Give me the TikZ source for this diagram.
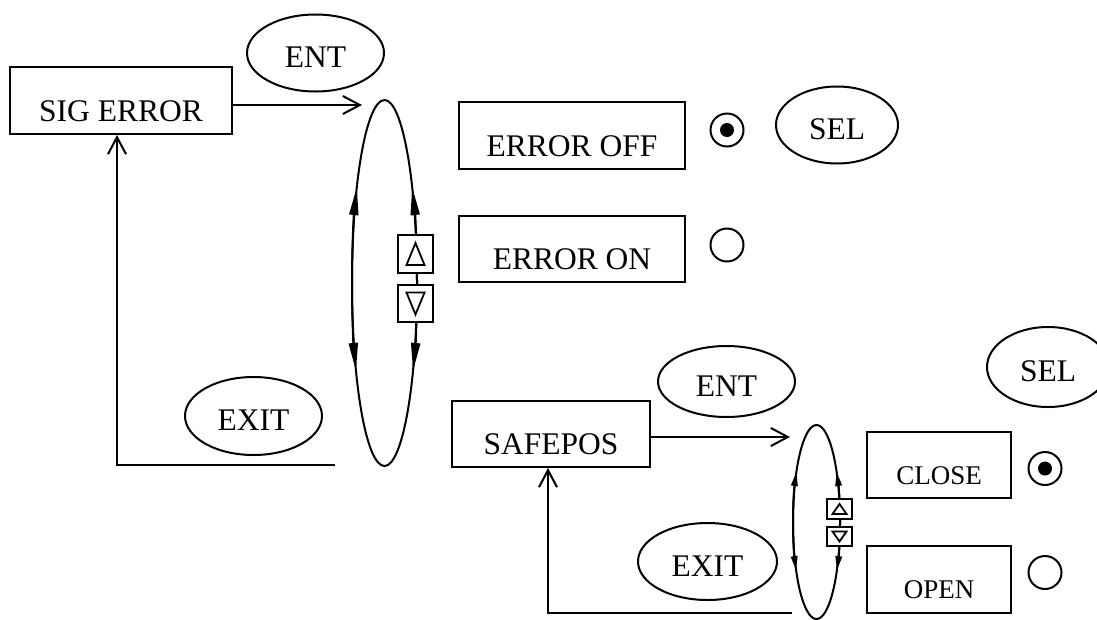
\documentclass[tikz,border=0pt]{standalone}
\usepackage{fontspec}
\setmainfont{Liberation Serif}
\usepackage{tikz}
\usetikzlibrary{arrows.meta, shapes.geometric}

\newcommand{\bigtxt}{\fontsize{31.5}{36}\selectfont}
\newcommand{\smalltxt}{\fontsize{27}{32}\selectfont}

\begin{document}
\begin{tikzpicture}[
    x=1pt, y=-1pt,
    line width=2pt,
    menu/.style={draw, rectangle, minimum width=#1, minimum height=67pt,
                 inner sep=0pt, text height=41pt, text depth=0pt, font=\bigtxt},
    menu/.default=222pt,
    choice/.style={menu=226pt},
    opt/.style={menu=144pt, text height=38pt, font=\smalltxt},
    keyell/.style={draw, ellipse, minimum width=137pt, minimum height=77pt,
                   inner sep=0pt, text height=29pt, text depth=0pt, font=\bigtxt},
    sel/.style={keyell, minimum width=122pt},
    ring/.style={draw, ellipse, inner sep=0pt, outer sep=0pt},
    keybox/.style={draw, fill=white, inner sep=0pt, outer sep=0pt},
    upkey/.style 2 args={keybox, path picture={
        \draw[line width=1.8pt] ([shift={(-#1/2,-#2/2)}]path picture bounding box.center)
            -- ([shift={(#1/2,-#2/2)}]path picture bounding box.center)
            -- ([shift={(0pt,#2/2)}]path picture bounding box.center) -- cycle;}},
    downkey/.style 2 args={keybox, path picture={
        \draw[line width=1.8pt] ([shift={(-#1/2,#2/2)}]path picture bounding box.center)
            -- ([shift={(#1/2,#2/2)}]path picture bounding box.center)
            -- ([shift={(0pt,-#2/2)}]path picture bounding box.center) -- cycle;}},
    radio/.style={draw, circle, minimum size=33pt, inner sep=0pt},
    radioon/.style={radio, path picture={
        \fill (path picture bounding box.center) circle (7pt);}},
    push/.style={-{Straight Barb[length=17pt, width=18pt]}},
    bigtip/.style={-{Triangle[length=28pt, width=9pt]}},
    smalltip/.style={-{Triangle[length=14pt, width=6.5pt]}}
]
\useasboundingbox (0,0) rectangle (1097,619);
\clip (0,0) rectangle (1097,619);

%% Upper menu: signal error
\node[menu=222pt] (sigerr) at (121,100.5) {SIG ERROR};
\node[keyell] (entA) at (315.5,53) {ENT};
\node[keyell, minimum height=78pt] (exitA) at (253.5,416) {EXIT};
\node[ring, minimum width=65pt, minimum height=366pt] (loopA) at (384.5,283) {};
\node[choice] (erroff) at (572,135.5) {ERROR OFF};
\node[choice, minimum height=66pt] (erron) at (572,249) {ERROR ON};
\node[radioon] (radA) at (727,130) {};
\node[radio] (radB) at (727,245) {};
\node[sel] (selA) at (837,125) {SEL};

%% Lower menu: safe position
\node[menu=198pt, minimum height=66pt] (safepos) at (551,434) {SAFEPOS};
\node[keyell, minimum height=71pt] (entB) at (726.5,381.5) {ENT};
\node[keyell, minimum width=139pt] (exitB) at (707.5,561.5) {EXIT};
\node[ring, minimum width=47pt, minimum height=194pt] (loopB) at (816.5,522) {};
\node[opt, minimum height=66pt] (close) at (939,465) {CLOSE};
\node[opt] (open) at (939,579.5) {OPEN};
\node[radioon] (radC) at (1045,468.5) {};
\node[radio] (radD) at (1045,572.5) {};
\node[sel, minimum height=80pt] (selB) at (1048,367) {SEL};

%% Enter and exit connectors
\coordinate (inA) at (362,105);
\coordinate (backA) at (335,465);
\coordinate (inB) at (790,437);
\coordinate (backB) at (792,613);
\draw[push] (sigerr.east |- inA) -- (inA);
\draw[push] (backA) -| ([xshift=-4pt]sigerr.south);
\draw[push] (safepos.east |- inB) -- (inB);
\draw[push] (backB) -| ([xshift=-3pt]safepos.south);

%% Scroll arrows on the loops
\draw[bigtip] (loopA.west) arc[start angle=180, end angle=211.6, x radius=32.5, y radius=183];
\draw[bigtip] (loopA.west) arc[start angle=180, end angle=151.3, x radius=32.5, y radius=183];
\draw[bigtip] (loopA.east) arc[start angle=0, end angle=-31.6, x radius=32.5, y radius=183];
\draw[bigtip] (loopA.east) arc[start angle=0, end angle=28.7, x radius=32.5, y radius=183];
\draw[smalltip] (loopB.west) arc[start angle=180, end angle=211, x radius=23.5, y radius=97];
\draw[smalltip] (loopB.west) arc[start angle=180, end angle=150.3, x radius=23.5, y radius=97];
\draw[smalltip] (loopB.east) arc[start angle=0, end angle=-31, x radius=23.5, y radius=97];
\draw[smalltip] (loopB.east) arc[start angle=0, end angle=29.7, x radius=23.5, y radius=97];

%% Up/down keys
\node[upkey={18pt}{22pt}, minimum width=35pt, minimum height=38pt] (upA) at (415.5,254) {};
\node[downkey={18pt}{22pt}, minimum width=35pt, minimum height=37pt] (downA) at (415.5,303.5) {};
\node[upkey={14pt}{10pt}, minimum width=25pt, minimum height=20pt] (upB) at (839.5,509) {};
\node[downkey={14pt}{10pt}, minimum width=25pt, minimum height=19pt] (downB) at (839.5,536.5) {};
\end{tikzpicture}
\end{document}
